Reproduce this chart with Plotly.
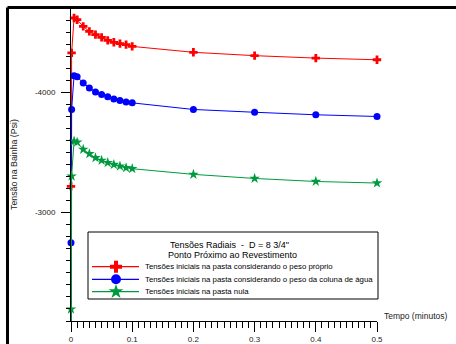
import plotly.graph_objects as go

# Time (minutes) and radial stresses in the sheath (psi)
tempo = [0, 0, 0.001, 0.005, 0.01, 0.02, 0.03, 0.04, 0.05, 0.06, 0.07, 0.08,
         0.09, 0.1, 0.2, 0.3, 0.4, 0.5]
peso_proprio = [0, -3218, -4327, -4617, -4603, -4547, -4506, -4479, -4456, -4431,
                -4415, -4404, -4396, -4381, -4332, -4304, -4284, -4270]
coluna_agua = [0, -2751, -3856, -4138, -4128, -4078, -4036, -4003, -3981, -3962,
               -3945, -3931, -3920, -3912, -3857, -3834, -3813, -3799]
pasta_nula = [0, -2198, -3303, -3594, -3585, -3525, -3489, -3456, -3434, -3415,
              -3400, -3386, -3373, -3365, -3318, -3284, -3259, -3246]

nomes = ["Tensões iniciais na pasta considerando o peso próprio",
         "Tensões iniciais na pasta considerando o peso da coluna de água",
         "Tensões iniciais na pasta nula"]
cores = ["#ff0000", "#0000ff", "#009a3e"]
simbolos = ["cross", "circle", "star"]
tamanhos = [7, 7, 8]

y_ticks = [-4000, -3000]
y_tick_text = ["-4000", "-3000"]
x_ticks = [0, 0.1, 0.2, 0.3, 0.4, 0.5]
x_tick_text = ["0", "0.1", "0.2", "0.3", "0.4", "0.5"]

W, H = 456, 344
L, R, T, B = 71, 79, 8, 23
PW, PH = W - L - R, H - T - B
FONT = "Liberation Sans, Arial, sans-serif"


def px(x):
    return (x - L) / PW


def py(y):
    return (H - B - y) / PH


fig = go.Figure()
for serie, nome, cor, simb, tam in zip([peso_proprio, coluna_agua, pasta_nula],
                                       nomes, cores, simbolos, tamanhos):
    fig.add_trace(go.Scatter(
        x=tempo, y=serie, name=nome, mode="lines+markers",
        line=dict(color=cor, width=1),
        marker=dict(symbol=simb, size=tam, color=cor, line=dict(width=0)),
        cliponaxis=False, showlegend=False))

# hand-built legend drawn on a pixel-scaled overlay axis
leg_y = [266.7, 279.3, 291.7]
for ly, cor, simb, tam in zip(leg_y, cores, simbolos, tamanhos):
    fig.add_trace(go.Scatter(
        x=[92, 139], y=[ly, ly], mode="lines", xaxis="x2", yaxis="y2",
        line=dict(color=cor, width=1.2), showlegend=False, hoverinfo="skip"))
    fig.add_trace(go.Scatter(
        x=[116], y=[ly], mode="markers", xaxis="x2", yaxis="y2",
        marker=dict(symbol=simb, size=tam + 3, color=cor, line=dict(width=0)),
        showlegend=False, hoverinfo="skip", cliponaxis=False))

shapes = [
    # legend box
    dict(type="rect", xref="paper", yref="paper",
         x0=px(88), x1=px(378), y0=py(299), y1=py(232),
         line=dict(color="black", width=1), fillcolor="white", layer="below"),
    # page frame (top and left edges)
    dict(type="line", xref="paper", yref="paper",
         x0=px(7.5), x1=px(470), y0=py(7.5), y1=py(7.5),
         line=dict(color="black", width=3)),
    dict(type="line", xref="paper", yref="paper",
         x0=px(7.5), x1=px(7.5), y0=py(7.5), y1=py(360),
         line=dict(color="black", width=3)),
]

annotations = [
    dict(text="Tensões Radiais  -  D = 8 3/4\"", xref="paper", yref="paper",
         x=px(229), y=py(244.5), showarrow=False, xanchor="center", yanchor="middle",
         font=dict(size=9, color="black", family=FONT)),
    dict(text="Ponto Próximo ao Revestimento", xref="paper", yref="paper",
         x=px(232), y=py(255), showarrow=False, xanchor="center", yanchor="middle",
         font=dict(size=9, color="black", family=FONT)),
    dict(text="Tensão na Bainha (Psi)", xref="paper", yref="paper",
         x=px(14), y=py(165), showarrow=False, textangle=-90,
         xanchor="center", yanchor="middle",
         font=dict(size=8.8, color="#222", family=FONT)),
    dict(text="Tempo (minutos)", xref="paper", yref="paper",
         x=px(382), y=py(315.5), showarrow=False, xanchor="left", yanchor="middle",
         font=dict(size=8.5, color="#222", family=FONT)),
]
for ly, nome in zip(leg_y, nomes):
    annotations.append(dict(
        text=nome, xref="paper", yref="paper", x=px(143), y=py(ly),
        showarrow=False, xanchor="left", yanchor="middle",
        font=dict(size=7.8, color="black", family=FONT)))

fig.update_layout(
    width=W, height=H,
    margin=dict(l=L, r=R, t=T, b=B, pad=0, autoexpand=False),
    paper_bgcolor="white", plot_bgcolor="white",
    font=dict(family=FONT, size=8, color="#222"),
    shapes=shapes, annotations=annotations,
    xaxis=dict(
        range=[0, 0.5], tickvals=x_ticks, ticktext=x_tick_text, automargin=False,
        showline=True, linecolor="black", linewidth=1, showgrid=False,
        zeroline=False, ticks="outside", ticklen=10, tickcolor="black",
        ticklabelstandoff=0,
        minor=dict(dtick=0.01, ticks="outside", ticklen=6, tickcolor="black",
                   showgrid=False),
        tickfont=dict(size=8, color="#222")),
    yaxis=dict(
        range=[-2100, -4700], tickvals=y_ticks, ticktext=y_tick_text, automargin=False,
        showline=True, linecolor="black", linewidth=1, showgrid=False,
        zeroline=False, ticks="outside", ticklen=9, tickcolor="black",
        ticklabelstandoff=4,
        minor=dict(dtick=100, tick0=0, ticks="outside", ticklen=4,
                   tickcolor="black", showgrid=False),
        tickfont=dict(size=8, color="#222")),
    xaxis2=dict(range=[L, L + PW], overlaying="x", visible=False, anchor="y2"),
    yaxis2=dict(range=[H - B, T], overlaying="y", visible=False, anchor="x2"),
)

fig.write_html("out.html")
